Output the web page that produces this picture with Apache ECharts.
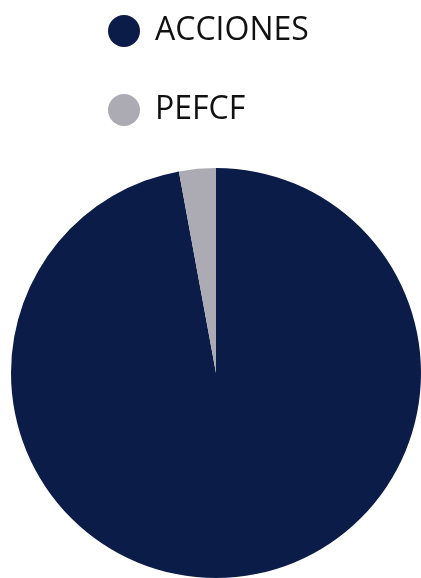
<!DOCTYPE html>
<html>
<head>
<meta charset="utf-8">
<script src="https://cdn.jsdelivr.net/npm/echarts@6/dist/echarts.min.js"></script>
<style>
html,body{margin:0;padding:0;background:#fff;}
#chart{width:421px;height:578px;}
</style>
</head>
<body>
<div id="chart"></div>
<script>
const categories = ['ACCIONES', 'PEFCF'];
const values = [97.1, 2.9];
const colors = ['#0b1c48', '#acabb3'];

const chart = echarts.init(document.getElementById('chart'), null, {renderer: 'canvas'});
chart.setOption({
  animation: false,
  color: colors,
  legend: {
    orient: 'vertical',
    left: 108,
    top: 15,
    padding: 0,
    icon: 'circle',
    itemWidth: 32,
    itemHeight: 32,
    itemGap: 47,
    data: categories,
    textStyle: {
      fontFamily: 'Open Sans',
      fontSize: 32,
      color: '#111111',
      padding: [0, 0, 0, 10]
    }
  },
  series: [{
    type: 'pie',
    center: [216, 373],
    radius: 205,
    startAngle: 90,
    clockwise: true,
    label: {show: false},
    labelLine: {show: false},
    itemStyle: {borderWidth: 0},
    emphasis: {disabled: true},
    data: categories.map((c, i) => ({name: c, value: values[i]}))
  }]
});
</script>
</body>
</html>
